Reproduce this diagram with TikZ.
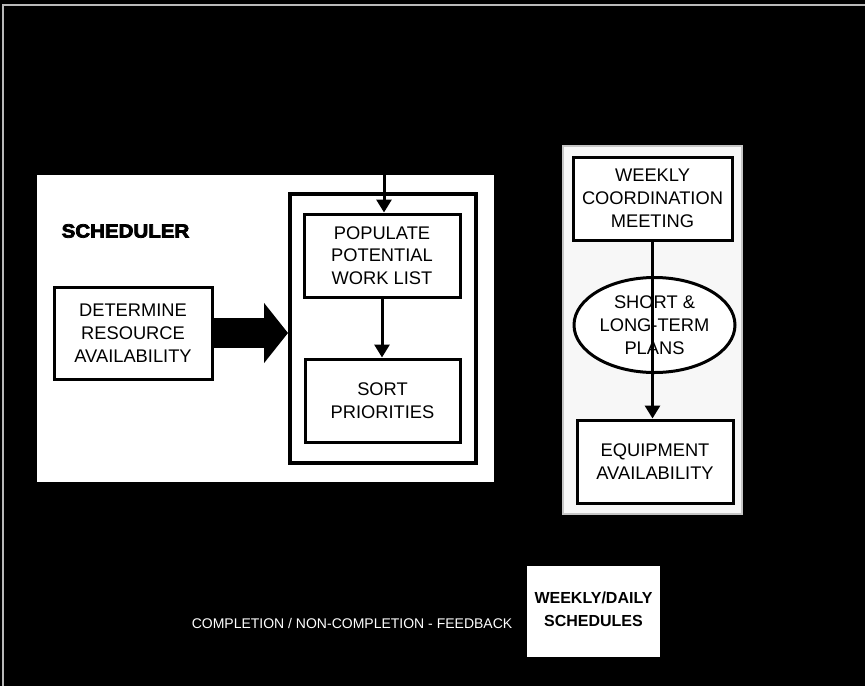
\documentclass[tikz,border=0pt]{standalone}
\usepackage{fontspec}
\setmainfont{Liberation Sans}
\newfontfamily\heavyfont{Liberation Sans}[BoldFeatures={FakeBold=4,FakeStretch=1.08}]
\usetikzlibrary{arrows.meta,shapes.geometric}

\tikzset{
  txt/.style={font=\fontsize{18.3}{22.8}\selectfont, align=center},
  stepbox/.style={txt, draw=black, line width=3, fill=white, inner sep=0,
    rectangle},
  flow/.style={draw=black, line width=3,
    -{Triangle[length=13pt,width=15pt]}},
  panel/.style={fill=white},
  graypanel/.style={fill=gray!6, draw=gray!45, line width=2.5},
}

\begin{document}
\begin{tikzpicture}[x=1pt,y=-1pt]
  % page background
  \fill[black] (0,0) rectangle (865,686);
  \useasboundingbox (0,0) rectangle (865,686);
  \draw[gray!55, line width=1.2] (3,686) -- (3,5) -- (865,5);

  % scheduler panel and coordination panel
  \fill[panel] (37,175) rectangle (494,482);
  \draw[graypanel] (563,146) rectangle (742,514);

  % scheduler section
  \node (schedlabel) at (125.5,231) {\heavyfont\bfseries\fontsize{19}{22}\selectfont SCHEDULER};
  \node[stepbox, minimum width=158, minimum height=92] (det) at (133,333)
    {DETERMINE\\RESOURCE\\AVAILABILITY};
  \node[draw=black, line width=4, fill=white, minimum width=186, minimum height=269,
    inner sep=0] (frame) at (383,328.5) {};
  \node[stepbox, minimum width=156, minimum height=83] (pop) at (382,255.5)
    {POPULATE\\POTENTIAL\\WORK LIST};
  \node[stepbox, minimum width=155, minimum height=83] (sort) at (382.5,400.5)
    {SORT\\PRIORITIES};

  % coordination section
  \node[stepbox, minimum width=159, minimum height=83] (meet) at (652.5,198.5)
    {WEEKLY\\COORDINATION\\MEETING};
  \node[txt, ellipse, draw=black, line width=3, fill=white, inner sep=0,
    minimum width=161, minimum height=95] (plans) at (654.5,325)
    {SHORT \&\\LONG-TERM\\PLANS};
  \node[stepbox, minimum width=156, minimum height=83] (equip) at (655,461.5)
    {EQUIPMENT\\AVAILABILITY};

  % schedules output and feedback
  \node[fill=white, inner sep=0, minimum width=133, minimum height=91] (out)
    at (593.5,611.5) {};
  \node[font=\bfseries\fontsize{16}{23}\selectfont, align=center] (outtext)
    at ([yshift=2]out.center) {WEEKLY/DAILY\\SCHEDULES};
  \node[text=white, font=\fontsize{14}{16}\selectfont] (feedback) at (352,623)
    {COMPLETION / NON-COMPLETION - FEEDBACK};

  % connectors
  \coordinate (feed) at (384,150);
  \draw[flow] (feed) -- (feed |- pop.north);
  \draw[flow] (pop.south) -- (pop.south |- sort.north);
  \draw[flow] (meet.south) -- (meet.south |- equip.north);
  \draw[line width=30, -{Triangle[length=24pt,width=59pt]}]
    (det.east) -- (det.east -| frame.west);
\end{tikzpicture}
\end{document}
